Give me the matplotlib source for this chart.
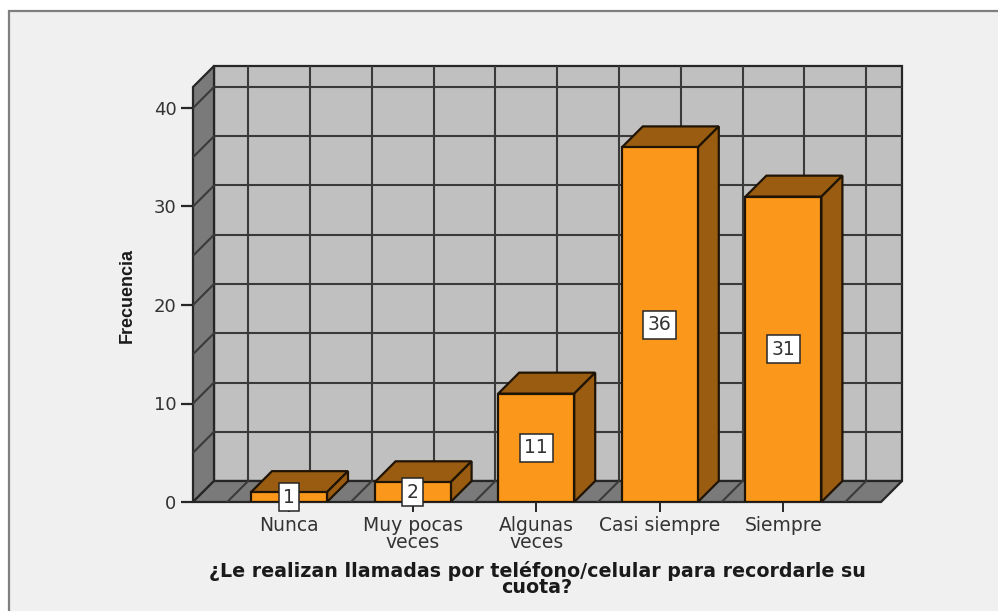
import matplotlib
matplotlib.use('Agg')
import matplotlib.pyplot as plt
from matplotlib.patches import Polygon, Rectangle
import numpy as np

############################### Data ###########################################
categorias = ['Nunca', 'Muy pocas\nveces', 'Algunas\nveces', 'Casi siempre', 'Siempre']
frecuencias = [1, 2, 11, 36, 31]
marcas_y = [0, 10, 20, 30, 40]
titulo_x = '¿Le realizan llamadas por teléfono/celular para recordarle su\ncuota?'
titulo_y = 'Frecuencia'

############################### Constants ######################################
W, H = 998, 611
PX_X = 123.6   # pixeles por categoria
PX_Y = 9.85    # pixeles por unidad de frecuencia
DX = 21 / PX_X # profundidad 3D en unidades de datos
DY = 21 / PX_Y
BAR_W = 76 / PX_X

FONDO = '#f0f0f0'
PARED = '#c0c0c0'
LATERAL = '#7a7a7a'
NARANJA = '#fb981b'
MARRON = '#9a5c10'
LINEA = '#262626'
REJILLA = '#3a3a3a'
TEXTO = '#333333'

plt.rcParams['font.family'] = ['DejaVu Sans']

fig = plt.figure(figsize=(W / 100, H / 100), dpi=100, facecolor='white')

# fondo y borde de la ventana (solo se ven el borde superior e izquierdo)
fig.add_artist(Rectangle((9 / W, -0.05), 1.05, 1.05 - 11 / H, transform=fig.transFigure,
                         fc=FONDO, ec='#7f7f7f', lw=1.6, zorder=-1))

left, right, top, bottom = 193, 902, 66, 502
ax = fig.add_axes([left / W, 1 - bottom / H, (right - left) / W, (bottom - top) / H])
ax.set_xlim((left - 289) / PX_X, (right - 289) / PX_X)
ax.set_ylim(0, (bottom - top) / PX_Y)
ax.patch.set_visible(False)
for s in ax.spines.values():
    s.set_visible(False)

x0, x1 = ax.get_xlim()
x_front_end = x1 - DX
y_top = ax.get_ylim()[1]

# paredes
ax.add_patch(Rectangle((x0 + DX, DY), x1 - x0 - DX, y_top - DY, fc=PARED, ec=LINEA, lw=1.6, zorder=1, clip_on=False))
ax.add_patch(Polygon([(x0, 0), (x0 + DX, DY), (x0 + DX, y_top), (x0, y_top - DY)],
                     fc=LATERAL, ec=LINEA, lw=1.6, zorder=1.2, clip_on=False))
ax.add_patch(Polygon([(x0, 0), (x_front_end, 0), (x1, DY), (x0 + DX, DY)],
                     fc=LATERAL, ec=LINEA, lw=1.6, zorder=1.2, clip_on=False))

# rejilla
for v in np.arange(5, 45, 5):
    ax.plot([x0 + DX, x1], [v + DY, v + DY], color=REJILLA, lw=1.5, zorder=1.1)
    ax.plot([x0, x0 + DX], [v, v + DY], color=REJILLA, lw=1.5, zorder=1.3)
for g in np.arange(-0.5, 4.6, 0.5):
    ax.plot([g + DX, g + DX], [DY, y_top], color=REJILLA, lw=1.5, zorder=1.1)
    ax.plot([g, g + DX], [0, DY], color=REJILLA, lw=1.5, zorder=1.3)

# barras
pos = np.arange(len(categorias))
ax.bar(pos, frecuencias, width=BAR_W, color=NARANJA, edgecolor='#1f1405', linewidth=1.6, zorder=3)
for p, f in zip(pos, frecuencias):
    a, b = p - BAR_W / 2, p + BAR_W / 2
    ax.add_patch(Polygon([(a, f), (b, f), (b + DX, f + DY), (a + DX, f + DY)],
                         fc=MARRON, ec='#1f1405', lw=1.6, zorder=2.9))
    ax.add_patch(Polygon([(b, 0), (b + DX, DY), (b + DX, f + DY), (b, f)],
                         fc=MARRON, ec='#1f1405', lw=1.6, zorder=2.9))
    ax.text(p, f / 2, str(f), ha='center', va='center', fontsize=13.5, color=TEXTO, zorder=5,
            bbox=dict(boxstyle='square,pad=0.24', fc='white', ec=LINEA, lw=1.1))

# ejes
ax.set_yticks(marcas_y)
ax.set_xticks(pos)
ax.set_xticklabels(categorias, linespacing=0.9)
ax.tick_params(axis='y', length=9, width=1.6, color=LINEA, labelcolor=TEXTO, labelsize=13, pad=3)
ax.tick_params(axis='x', length=7, width=1.4, color=LINEA, labelcolor=TEXTO, labelsize=13.5, pad=3)

fig.text(127 / W, 1 - 295 / H, titulo_y, rotation=90, ha='center', va='center',
         fontsize=13, fontweight='bold', color='#1a1a1a',
         family=['Liberation Sans Narrow', 'Liberation Sans'])
fig.text(537 / W, 1 - 579 / H, titulo_x, ha='center', va='center', fontsize=13.7,
         fontweight='bold', color='#1a1a1a', linespacing=0.82)

fig.savefig('out.png', dpi=100, facecolor=fig.get_facecolor())
